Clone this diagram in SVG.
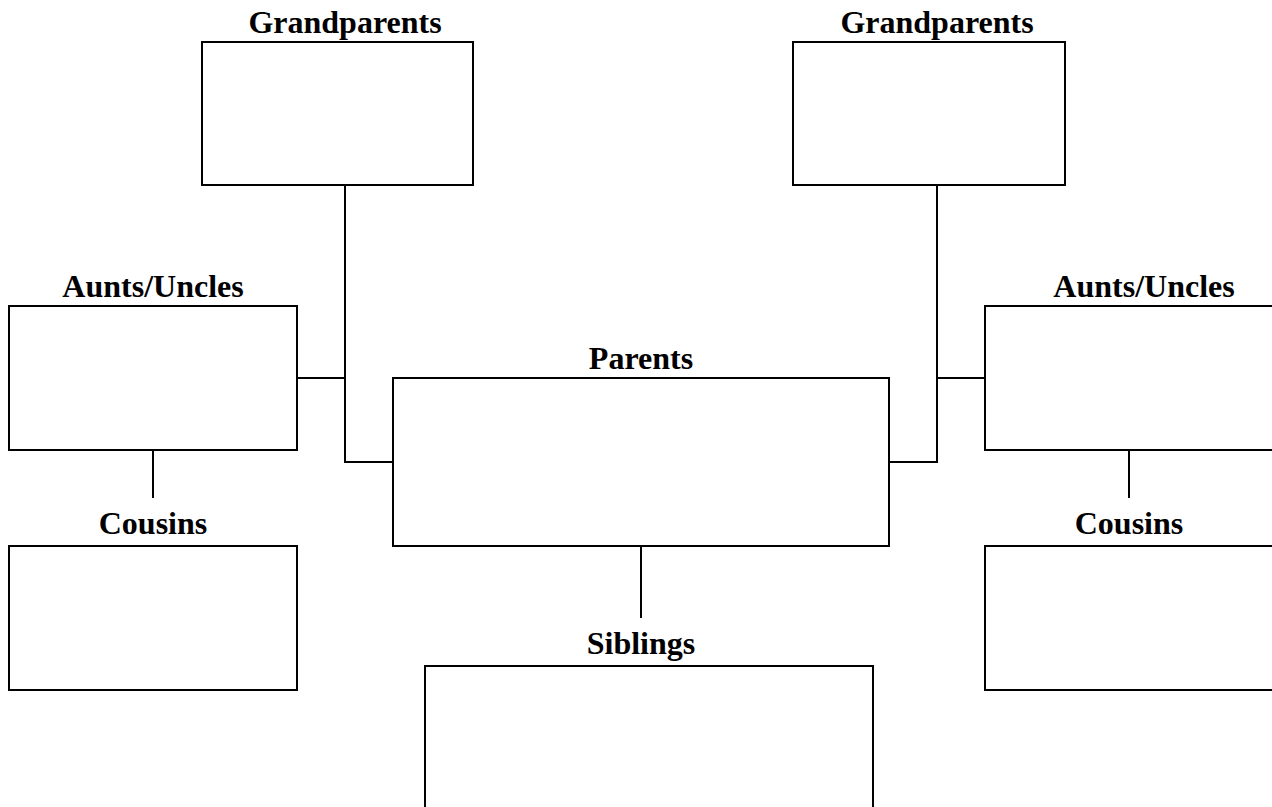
<svg xmlns="http://www.w3.org/2000/svg" width="1272" height="807" viewBox="0 0 1272 807">
<style>
.box{fill:#fff;stroke:#000;stroke-width:2}
.lbl{font-family:"Liberation Serif","Times New Roman",serif;font-weight:bold;font-size:32px;text-anchor:middle;fill:#000}
.conn{fill:none;stroke:#000;stroke-width:2}
</style>
<rect width="1272" height="807" fill="#fff"/>
<g id="connectors">
<polyline class="conn" points="345,185 345,462 393,462"/>
<line class="conn" x1="297" y1="378" x2="345" y2="378"/>
<polyline class="conn" points="937,185 937,462 889,462"/>
<line class="conn" x1="937" y1="378" x2="985" y2="378"/>
<line class="conn" x1="153" y1="450" x2="153" y2="498"/>
<line class="conn" x1="1129" y1="450" x2="1129" y2="498"/>
<line class="conn" x1="641" y1="546" x2="641" y2="618"/>
</g>
<g id="grandparents-left">
<rect class="box" x="202" y="42" width="271" height="143"/>
<text class="lbl" x="345" y="33">Grandparents</text>
</g>
<g id="grandparents-right">
<rect class="box" x="793" y="42" width="272" height="143"/>
<text class="lbl" x="937" y="33">Grandparents</text>
</g>
<g id="aunts-left">
<rect class="box" x="9" y="306" width="288" height="144"/>
<text class="lbl" x="153" y="297">Aunts/Uncles</text>
</g>
<g id="aunts-right">
<rect class="box" x="985" y="306" width="300" height="144"/>
<text class="lbl" x="1144" y="297">Aunts/Uncles</text>
</g>
<g id="parents">
<rect class="box" x="393" y="378" width="496" height="168"/>
<text class="lbl" x="641" y="369">Parents</text>
</g>
<g id="cousins-left">
<rect class="box" x="9" y="546" width="288" height="144"/>
<text class="lbl" x="153" y="534">Cousins</text>
</g>
<g id="cousins-right">
<rect class="box" x="985" y="546" width="300" height="144"/>
<text class="lbl" x="1129" y="534">Cousins</text>
</g>
<g id="siblings">
<rect class="box" x="425" y="666" width="448" height="160"/>
<text class="lbl" x="641" y="654">Siblings</text>
</g>
</svg>
